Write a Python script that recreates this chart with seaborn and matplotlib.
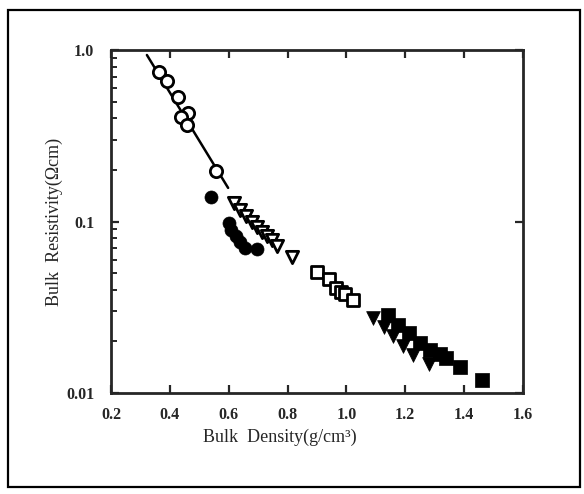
import matplotlib
matplotlib.use("Agg")
import matplotlib.pyplot as plt
import seaborn as sns
import pandas as pd
from matplotlib.ticker import LogLocator, FixedLocator, NullFormatter
from matplotlib.patches import Rectangle

# ---- data ----
open_circle_x = [0.363, 0.390, 0.428, 0.462, 0.438, 0.459, 0.557]
open_circle_y = [0.744, 0.659, 0.532, 0.430, 0.407, 0.366, 0.197]

filled_circle_x = [0.540, 0.601, 0.608, 0.625, 0.639, 0.656, 0.697]
filled_circle_y = [0.139, 0.098, 0.089, 0.082, 0.076, 0.070, 0.069]

open_tri_x = [0.618, 0.639, 0.659, 0.680, 0.697, 0.714, 0.731, 0.748, 0.765, 0.816]
open_tri_y = [0.128, 0.117, 0.108, 0.0993, 0.0929, 0.0869, 0.0822, 0.0779, 0.0719, 0.0621]

open_sq_x = [0.901, 0.941, 0.965, 0.982, 0.996, 1.023]
open_sq_y = [0.0508, 0.0462, 0.0409, 0.0388, 0.0377, 0.0348]

filled_tri_x = [1.091, 1.129, 1.159, 1.193, 1.227, 1.282]
filled_tri_y = [0.0273, 0.0243, 0.0215, 0.0188, 0.0167, 0.0148]

filled_sq_x = [1.142, 1.176, 1.214, 1.251, 1.285, 1.319, 1.339, 1.387, 1.462]
filled_sq_y = [0.0285, 0.0249, 0.0224, 0.0196, 0.0178, 0.0169, 0.0160, 0.0142, 0.0119]

fit_x = [0.322, 0.598]
fit_y = [0.935, 0.157]

x_ticks = [0.2, 0.4, 0.6, 0.8, 1.0, 1.2, 1.4, 1.6]
x_ticklabels = ["0.2", "0.4", "0.6", "0.8", "1.0", "1.2", "1.4", "1.6"]
y_ticks = [0.01, 0.1, 1.0]
y_ticklabels = ["0.01", "0.1", "1.0"]

# ---- style ----
sns.set_style("ticks")
plt.rcParams["font.family"] = ["Liberation Serif", "DejaVu Serif"]

W, H = 584, 494
fig = plt.figure(figsize=(W / 100, H / 100), dpi=100)
ax = fig.add_axes([111 / W, 1 - 393 / H, (523 - 111) / W, (393 - 50) / H])

# fitted line
sns.lineplot(x=fit_x, y=fit_y, ax=ax, color="black", lw=1.8, zorder=1)

ms = 78
lw_m = 2.0
sns.scatterplot(x=open_circle_x, y=open_circle_y, ax=ax, marker="o", s=ms,
                facecolor="white", edgecolor="black", linewidth=lw_m, zorder=3)
sns.scatterplot(x=filled_circle_x, y=filled_circle_y, ax=ax, marker="o", s=ms + 10,
                color="black", edgecolor="black", linewidth=0.5, zorder=3)
sns.scatterplot(x=open_tri_x, y=open_tri_y, ax=ax, marker="v", s=ms,
                facecolor="white", edgecolor="black", linewidth=lw_m, zorder=3)
sns.scatterplot(x=open_sq_x, y=open_sq_y, ax=ax, marker="s", s=ms,
                facecolor="white", edgecolor="black", linewidth=lw_m, zorder=3)
sns.scatterplot(x=filled_tri_x, y=filled_tri_y, ax=ax, marker="v", s=ms + 20,
                color="black", edgecolor="black", linewidth=0.5, zorder=3)
sns.scatterplot(x=filled_sq_x, y=filled_sq_y, ax=ax, marker="s", s=ms + 15,
                color="black", edgecolor="black", linewidth=0.5, zorder=4)

ax.set_yscale("log")
ax.set_xlim(0.2, 1.6)
ax.set_ylim(0.01, 1.0)

ax.xaxis.set_major_locator(FixedLocator(x_ticks))
ax.set_xticklabels(x_ticklabels, fontweight="bold")
ax.yaxis.set_major_locator(FixedLocator(y_ticks))
ax.set_yticklabels(y_ticklabels, fontweight="bold")
ax.yaxis.set_minor_locator(LogLocator(base=10, subs=[2, 3, 4, 5, 6, 7, 8, 9]))
ax.yaxis.set_minor_formatter(NullFormatter())

ax.tick_params(axis="both", which="major", direction="in", length=6, width=1.6,
               labelsize=11.5, top=True, right=True)
ax.tick_params(axis="x", which="major", pad=10)
ax.tick_params(axis="y", which="major", pad=12)
ax.tick_params(axis="y", which="minor", direction="in", length=4, width=1.4,
               left=True, right=False)
for s in ax.spines.values():
    s.set_linewidth(2.0)
    s.set_visible(True)

ax.set_xlabel("Bulk  Density(g/cm³)", fontsize=13)
ax.xaxis.set_label_coords((280 - 111) / (523 - 111), -(429 - 393) / (393 - 50))
ax.set_ylabel("Bulk  Resistivity(Ωcm)", fontsize=13)
ax.yaxis.set_label_coords(-(111 - 63) / (523 - 111), 0.5)

# outer frame of the scanned figure
fig.patches.append(Rectangle((8 / W, 1 - 487 / H), (580 - 8) / W, (487 - 10) / H,
                             transform=fig.transFigure, fill=False,
                             edgecolor="black", linewidth=1.6))

fig.savefig("out.png", dpi=100)
